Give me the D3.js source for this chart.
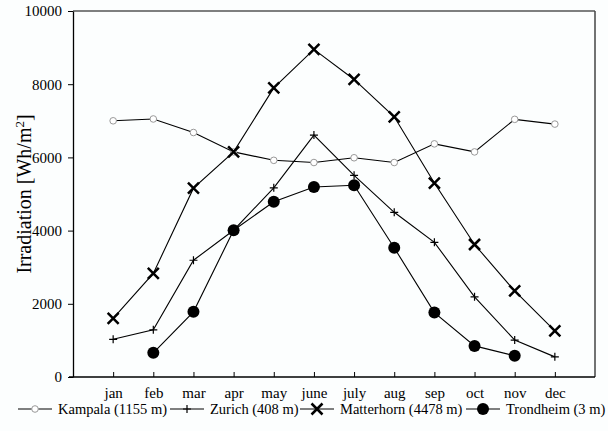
<!DOCTYPE html>
<html>
<head>
<meta charset="utf-8">
<script src="https://d3js.org/d3.v7.min.js"></script>
<style>
  body { margin: 0; background: #fcfefe; }
  svg text { font-family: "Liberation Serif", "Times New Roman", serif; fill: #000; }
</style>
</head>
<body>
<div id="chart"></div>
<script>
// months along the x axis
const months = ["jan", "feb", "mar", "apr", "may", "june", "july", "aug", "sep", "oct", "nov", "dec"];
const yTicks = [0, 2000, 4000, 6000, 8000, 10000];

// monthly irradiation, Wh/m2 (null = no value)
const kampala    = [7000, 7050, 6680, 6150, 5920, 5860, 5990, 5860, 6370, 6150, 7040, 6910];
const zurich     = [1030, 1290, 3190, 4010, 5170, 6610, 5510, 4500, 3680, 2190, 1010, 550];
const matterhorn = [1600, 2830, 5160, 6150, 7900, 8950, 8130, 7110, 5300, 3620, 2350, 1260];
const trondheim  = [null, 660, 1780, 4010, 4790, 5190, 5240, 3530, 1760, 850, 580, null];

const seriesNames = ["Kampala (1155 m)", "Zurich (408 m)", "Matterhorn (4478 m)", "Trondheim (3 m)"];
const seriesData = [kampala, zurich, matterhorn, trondheim];
const markers = ["open", "plus", "cross", "dot"];

const width = 608, height = 431;
const margin = {left: 73, right: 13, top: 11, bottom: 54};
const innerW = width - margin.left - margin.right;
const innerH = height - margin.top - margin.bottom;

const svg = d3.select("#chart").append("svg")
    .attr("width", width)
    .attr("height", height);

const g = svg.append("g")
    .attr("transform", "translate(" + margin.left + "," + margin.top + ")");

const x = d3.scalePoint().domain(months).range([0, innerW]).padding(1);
const y = d3.scaleLinear().domain([0, 10000]).range([innerH, 0]);

// frame (top + right)
g.append("line").attr("x1", 0).attr("x2", innerW).attr("y1", 0).attr("y2", 0)
    .attr("stroke", "#555").attr("stroke-width", 1.5);
g.append("line").attr("x1", innerW).attr("x2", innerW).attr("y1", 0).attr("y2", innerH)
    .attr("stroke", "#444").attr("stroke-width", 1.5);

// x axis, ticks inward
const xAxis = g.append("g")
    .attr("transform", "translate(0," + innerH + ")")
    .call(d3.axisBottom(x).tickSizeInner(-5).tickSizeOuter(0).tickPadding(10));
xAxis.select(".domain").attr("stroke-width", 1.3).attr("d", "M-4,0H" + innerW);
xAxis.selectAll("text").attr("font-size", 15);

// y axis
const yAxis = g.append("g")
    .call(d3.axisLeft(y).tickValues(yTicks).tickFormat(d3.format("d")).tickSize(5).tickSizeOuter(0).tickPadding(6));
yAxis.select(".domain").attr("stroke-width", 1.3);
yAxis.selectAll("text").attr("font-size", 15);

// y title
const yTitle = svg.append("text")
    .attr("transform", "translate(31," + (margin.top + innerH / 2) + ") rotate(-90)")
    .attr("text-anchor", "middle")
    .attr("font-size", 20);
yTitle.append("tspan").text("Irradiation [Wh/m");
yTitle.append("tspan").attr("baseline-shift", "super").attr("font-size", 13).text("2");
yTitle.append("tspan").text("]");

function drawMarker(sel, type) {
  if (type === "open") {
    sel.append("circle").attr("r", 3.3).attr("fill", "#fff").attr("stroke", "#999").attr("stroke-width", 1);
  } else if (type === "plus") {
    sel.append("path").attr("d", "M-4,0H4M0,-4V4").attr("stroke", "#000").attr("stroke-width", 1.2);
  } else if (type === "cross") {
    sel.append("path").attr("d", "M-5.5,-5.5L5.5,5.5M-5.5,5.5L5.5,-5.5").attr("stroke", "#000").attr("stroke-width", 2.5);
  } else {
    sel.append("circle").attr("r", 6).attr("fill", "#000");
  }
}

const line = d3.line()
    .defined(d => d != null)
    .x((d, i) => x(months[i]))
    .y(d => y(d));

seriesData.forEach(function(data, k) {
  g.append("path")
      .datum(data)
      .attr("fill", "none")
      .attr("stroke", "#000")
      .attr("stroke-width", 1.1)
      .attr("d", line);
  data.forEach(function(v, i) {
    if (v == null) return;
    const m = g.append("g").attr("transform", "translate(" + x(months[i]) + "," + y(v) + ")");
    drawMarker(m, markers[k]);
  });
});

// legend
const legendX = [18, 170, 300, 466];
const legendY = 409;
seriesNames.forEach(function(name, k) {
  const lg = svg.append("g").attr("transform", "translate(" + legendX[k] + "," + legendY + ")");
  lg.append("line").attr("x1", 0).attr("x2", 34).attr("stroke", "#000").attr("stroke-width", 1.1);
  const m = lg.append("g").attr("transform", "translate(17,0)");
  drawMarker(m, markers[k]);
  lg.append("text").attr("x", 40).attr("y", 5).attr("font-size", 14.5).text(name);
});
</script>
</body>
</html>
